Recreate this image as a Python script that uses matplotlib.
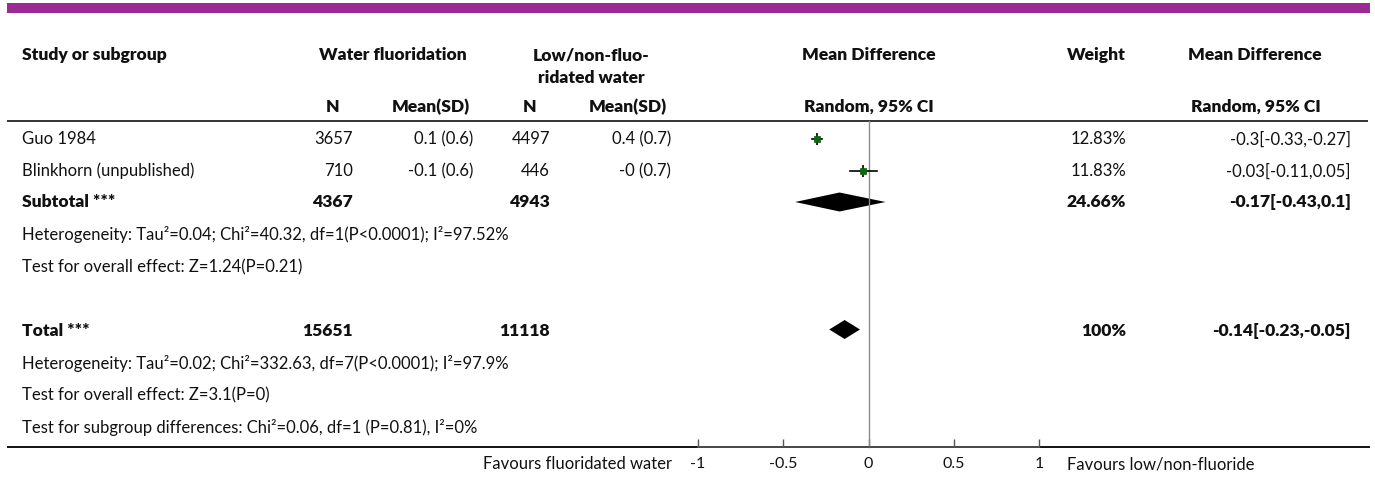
import matplotlib
matplotlib.use("Agg")
import matplotlib.pyplot as plt

plt.rcParams['font.family'] = ['Lato', 'DejaVu Sans']

# ---- data ----
studies = ['Guo 1984', 'Blinkhorn (unpublished)']
n_fluor = [3657, 710]
mean_fluor = [0.1, -0.1]
sd_fluor = [0.6, 0.6]
n_low = [4497, 446]
mean_low = [0.4, -0.0]
sd_low = [0.7, 0.7]
md = [-0.3, -0.03]
md_lo = [-0.33, -0.11]
md_hi = [-0.27, 0.05]
weights = [12.83, 11.83]

subtotal_n = [4367, 4943]
subtotal_weight = 24.66
subtotal_md = [-0.17, -0.43, 0.1]

total_n = [15651, 11118]
total_weight = 100
total_md = [-0.14, -0.23, -0.05]

sub_notes = ['Heterogeneity: Tau\u00b2=0.04; Chi\u00b2=40.32, df=1(P<0.0001); I\u00b2=97.52%',
             'Test for overall effect: Z=1.24(P=0.21)']
tot_notes = ['Heterogeneity: Tau\u00b2=0.02; Chi\u00b2=332.63, df=7(P<0.0001); I\u00b2=97.9%',
             'Test for overall effect: Z=3.1(P=0)',
             'Test for subgroup differences: Chi\u00b2=0.06, df=1 (P=0.81), I\u00b2=0%']
ticks = [-1, -0.5, 0, 0.5, 1]
tick_labels = ['-1', '-0.5', '0', '0.5', '1']
left_label = 'Favours fluoridated water'
right_label = 'Favours low/non-fluoride'

# ---- layout ----
W, H = 1375, 479
FS = 12
FS_BOLD = 12.6
INK = '#111111'
fig = plt.figure(figsize=(W / 100, H / 100), dpi=100)
ax = fig.add_axes([0, 0, 1, 1])
ax.set_xlim(0, W)
ax.set_ylim(H, 0)
ax.axis('off')

x_lab, x_n1, x_m1, x_n2, x_m2 = 22, 353, 473, 550, 671
x_w, x_md = 1126, 1351
fx0, fx1 = 698, 1039

# top band
ax.fill_between([7, 1370], 3, 13, color='#9c2a96', lw=0)

def t(x, y, s, ha='left', bold=False, **kw):
    ax.text(x, y, s, ha=ha, va='center', fontsize=FS_BOLD if bold else FS,
            color=INK, fontweight='heavy' if bold else 'normal', **kw)

# headers
t(x_lab, 55, 'Study or subgroup', bold=True)
t(393, 55, 'Water fluoridation', ha='center', bold=True)
t(591, 55, 'Low/non-fluo-', ha='center', bold=True)
t(591, 78, 'ridated water', ha='center', bold=True)
t(869, 55, 'Mean Difference', ha='center', bold=True)
t(x_w, 55, 'Weight', ha='right', bold=True)
t(1322, 55, 'Mean Difference', ha='right', bold=True)
t(333, 107, 'N', ha='center', bold=True)
t(470, 107, 'Mean(SD)', ha='right', bold=True)
t(530, 107, 'N', ha='center', bold=True)
t(667, 107, 'Mean(SD)', ha='right', bold=True)
t(869, 107, 'Random, 95% CI', ha='center', bold=True)
t(1321, 107, 'Random, 95% CI', ha='right', bold=True)
ax.plot([7, 1368], [121, 121], color='#333333', lw=1.4, solid_capstyle='butt')

# study rows
row_y = [139, 171]
for i, y in enumerate(row_y):
    t(x_lab, y, studies[i])
    t(x_n1, y, f'{n_fluor[i]}', ha='right')
    t(x_m1, y, f'{mean_fluor[i]:g} ({sd_fluor[i]:g})', ha='right')
    t(x_n2, y, f'{n_low[i]}', ha='right')
    t(x_m2, y, f'{mean_low[i]:g} ({sd_low[i]:g})', ha='right')
    t(x_w, y, f'{weights[i]:g}%', ha='right')
    t(x_md, y, f'{md[i]:g}[{md_lo[i]:g},{md_hi[i]:g}]', ha='right')

y_sub = 202
t(x_lab, y_sub, 'Subtotal ***', bold=True)
t(x_n1, y_sub, f'{subtotal_n[0]}', ha='right', bold=True)
t(x_n2, y_sub, f'{subtotal_n[1]}', ha='right', bold=True)
t(x_w, y_sub, f'{subtotal_weight:g}%', ha='right', bold=True)
t(x_md, y_sub, f'{subtotal_md[0]:g}[{subtotal_md[1]:g},{subtotal_md[2]:g}]', ha='right', bold=True)
for s, y in zip(sub_notes, [234, 267]):
    t(x_lab, y, s)

y_tot = 331
t(x_lab, y_tot, 'Total ***', bold=True)
t(x_n1, y_tot, f'{total_n[0]}', ha='right', bold=True)
t(x_n2, y_tot, f'{total_n[1]}', ha='right', bold=True)
t(x_w, y_tot, f'{total_weight:g}%', ha='right', bold=True)
t(x_md, y_tot, f'{total_md[0]:g}[{total_md[1]:g},{total_md[2]:g}]', ha='right', bold=True)
for s, y in zip(tot_notes, [363, 395, 427]):
    t(x_lab, y, s)

ax.plot([7, 1370], [447, 447], color=INK, lw=1.4, solid_capstyle='butt')
t(672, 464, left_label, ha='right')
t(1067, 464, right_label)

# ---- forest panel ----
fa = fig.add_axes([fx0 / W, 0, (fx1 - fx0) / W, 1])
fa.set_xlim(-1, 1)
fa.set_ylim(H, 0)
fa.patch.set_alpha(0)
for side in ['top', 'left', 'right']:
    fa.spines[side].set_visible(False)
fa.spines['bottom'].set_position(('data', 447))
fa.spines['bottom'].set_color('#555555')
fa.spines['bottom'].set_linewidth(1.2)
fa.set_yticks([])
fa.set_xticks(ticks)
fa.set_xticklabels(tick_labels)
fa.tick_params(axis='x', direction='in', length=6, width=1, color='#555555',
               labelsize=11.5, labelcolor=INK, pad=7)

fa.plot([0, 0], [121, 447], color='#8c8c8c', lw=1)

for i, y in enumerate(row_y):
    fa.plot([md_lo[i], md_hi[i]], [y, y], color='black', lw=1.2)
    fa.plot([md[i]], [y], marker='|', ms=9, mew=1.2, color='black')
    fa.plot([md[i]], [y], marker='s', ms=4.5, mfc='#0a6b0a', mec='#0a5a0a', mew=0.5)

def diamond(vals, y, half=9.5):
    c, lo, hi = vals
    fa.fill([lo, c, hi, c], [y, y - half, y, y + half], color='black', lw=0)

diamond(subtotal_md, y_sub)
diamond(total_md, 329.5)

fig.savefig('out.png', dpi=100)
